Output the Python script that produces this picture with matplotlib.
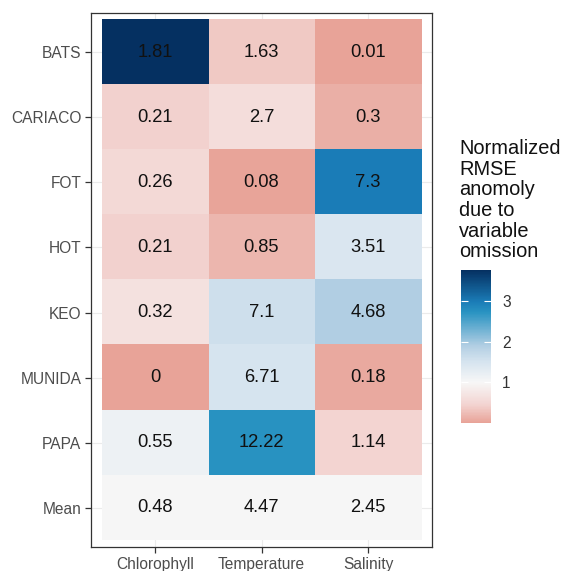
import numpy as np
import matplotlib
matplotlib.use('Agg')
from matplotlib import pyplot as plt
from matplotlib.colors import LinearSegmentedColormap, Normalize

plt.rcParams['font.family'] = ['Liberation Sans', 'DejaVu Sans']

sites = ['BATS', 'CARIACO', 'FOT', 'HOT', 'KEO', 'MUNIDA', 'PAPA', 'Mean']
variables = ['Chlorophyll', 'Temperature', 'Salinity']
chlorophyll = [1.81, 0.21, 0.26, 0.21, 0.32, 0, 0.55, 0.48]
temperature = [1.63, 2.7, 0.08, 0.85, 7.1, 6.71, 12.22, 4.47]
salinity = [0.01, 0.3, 7.3, 3.51, 4.68, 0.18, 1.14, 2.45]
cbar_ticks = [1, 2, 3]

values = np.array([chlorophyll, temperature, salinity]).T
# colour = value relative to the column mean (last row)
fill = values / values[-1]
vmax = fill.max()

# colour anchors (normalized anomaly -> colour)
anchors = [(0, '#E8A398'), (0.45, '#F3D4D1'), (1, '#F7F7F7'), (1.5, '#D6E4EF'),
           (1.91, '#B1CEE3'), (2.73, '#2993C2'), (2.98, '#1B7DB8'), (vmax, '#053061')]
cmap = LinearSegmentedColormap.from_list('rmse', [(v / vmax, c) for v, c in anchors])
norm = Normalize(vmin=0, vmax=vmax)

fig = plt.figure(figsize=(5.63, 5.71), dpi=100)
ax = fig.add_axes([91 / 563, 24 / 571, 341 / 563, 534 / 571])

nrow, ncol = fill.shape
ax.set_axisbelow(True)
ax.grid(True, color='#EBEBEB', linewidth=0.8, zorder=0)
im = ax.imshow(fill, cmap=cmap, norm=norm, aspect='auto', interpolation='nearest',
               extent=(0.5, ncol + 0.5, nrow + 0.5, 0.5), zorder=1)
for i in range(nrow):
    for j in range(ncol):
        ax.text(j + 1, i + 1, f'{values[i, j]:g}', ha='center', va='center',
                fontsize=13.2, color='#111111', zorder=2)

ax.set_xlim(0.4, ncol + 0.6)
ax.set_ylim(nrow + 0.6, 0.4)
ax.set_xticks(np.arange(1, ncol + 1))
ax.set_xticklabels(variables)
ax.set_yticks(np.arange(1, nrow + 1))
ax.set_yticklabels(sites)
ax.tick_params(colors='#333333', labelcolor='#4D4D4D', labelsize=11.2, length=4, width=0.9, pad=3)
for s in ax.spines.values():
    s.set_color('#333333')
    s.set_linewidth(0.9)

# legend
fig.text(459 / 563, 1 - 139 / 571, 'Normalized\nRMSE\nanomoly\ndue to\nvariable\nomission',
         ha='left', va='top', fontsize=14.4, linespacing=1.11, color='#111111')
cax = fig.add_axes([461 / 563, (571 - 423) / 571, 30 / 563, 153 / 571])
cb = fig.colorbar(im, cax=cax, ticks=cbar_ticks)
cb.outline.set_visible(False)
cax.tick_params(axis='y', direction='in', length=5, width=0.8, color='white',
                left=True, right=True, labelleft=False, labelright=True,
                labelsize=11.2, labelcolor='#333333', pad=8)

fig.savefig('out.png', dpi=100)
